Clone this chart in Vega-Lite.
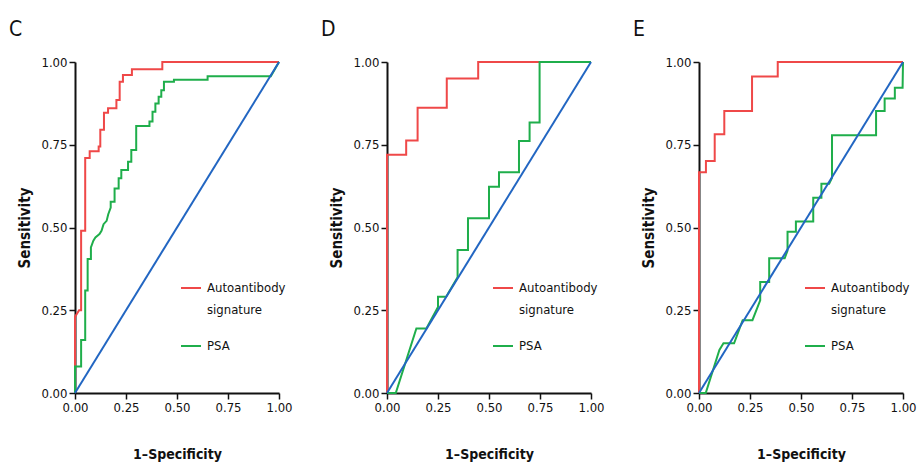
{
  "$schema": "https://vega.github.io/schema/vega-lite/v6.json",
  "padding": {"left": 9, "top": 19, "right": 2, "bottom": 5},
  "background": "white",
  "bounds": "flush",
  "spacing": 108,
  "config": {
    "view": {"stroke": null},
    "font": "DejaVu Sans Condensed, Liberation Sans, sans-serif",
    "axis": {
      "grid": false,
      "labelFlush": false,
      "domainColor": "#111",
      "domainWidth": 2,
      "tickColor": "#111",
      "tickWidth": 1.5,
      "tickSize": 6,
      "labelFont": "DejaVu Sans Condensed, Liberation Sans, sans-serif",
      "labelFontSize": 13,
      "labelColor": "#111",
      "labelPadding": 2,
      "titleFont": "DejaVu Sans Condensed, Liberation Sans, sans-serif",
      "titleFontWeight": "bold",
      "titleColor": "#111"
    },
    "axisX": {"titlePadding": 33, "titleFontSize": 14},
    "axisY": {"titlePadding": 8, "titleFontSize": 15},
    "title": {
      "font": "DejaVu Sans Condensed, Liberation Sans, sans-serif",
      "fontSize": 21,
      "fontWeight": "normal",
      "color": "#111",
      "anchor": "start",
      "frame": "group",
      "dx": -66,
      "offset": 16
    },
    "legend": {
      "orient": "none",
      "legendX": 105,
      "legendY": 215,
      "title": null,
      "symbolType": "stroke",
      "symbolSize": 400,
      "symbolStrokeWidth": 2,
      "labelFont": "DejaVu Sans Condensed, Liberation Sans, sans-serif",
      "labelFontSize": 13,
      "labelColor": "#111",
      "rowPadding": 18,
      "labelOffset": 5
    }
  },
  "resolve": {"scale": {"color": "independent"}, "legend": {"color": "independent"}},
  "datasets": {
    "roc": [
      {"p": "C", "s": "Diagonal", "o": 0, "x": 0, "y": 0},
      {"p": "C", "s": "Diagonal", "o": 1, "x": 1, "y": 1},
      {"p": "D", "s": "Diagonal", "o": 0, "x": 0, "y": 0},
      {"p": "D", "s": "Diagonal", "o": 1, "x": 1, "y": 1},
      {"p": "E", "s": "Diagonal", "o": 0, "x": 0, "y": 0},
      {"p": "E", "s": "Diagonal", "o": 1, "x": 1, "y": 1},

      {"p": "C", "s": "Autoantibody signature", "o": 0, "x": 0, "y": 0},
      {"p": "C", "s": "Autoantibody signature", "o": 1, "x": 0, "y": 0.23},
      {"p": "C", "s": "Autoantibody signature", "o": 2, "x": 0.02, "y": 0.25},
      {"p": "C", "s": "Autoantibody signature", "o": 3, "x": 0.03, "y": 0.25},
      {"p": "C", "s": "Autoantibody signature", "o": 4, "x": 0.03, "y": 0.49},
      {"p": "C", "s": "Autoantibody signature", "o": 5, "x": 0.05, "y": 0.49},
      {"p": "C", "s": "Autoantibody signature", "o": 6, "x": 0.05, "y": 0.71},
      {"p": "C", "s": "Autoantibody signature", "o": 7, "x": 0.072, "y": 0.71},
      {"p": "C", "s": "Autoantibody signature", "o": 8, "x": 0.072, "y": 0.73},
      {"p": "C", "s": "Autoantibody signature", "o": 9, "x": 0.116, "y": 0.73},
      {"p": "C", "s": "Autoantibody signature", "o": 10, "x": 0.116, "y": 0.745},
      {"p": "C", "s": "Autoantibody signature", "o": 11, "x": 0.124, "y": 0.745},
      {"p": "C", "s": "Autoantibody signature", "o": 12, "x": 0.124, "y": 0.795},
      {"p": "C", "s": "Autoantibody signature", "o": 13, "x": 0.142, "y": 0.795},
      {"p": "C", "s": "Autoantibody signature", "o": 14, "x": 0.142, "y": 0.847},
      {"p": "C", "s": "Autoantibody signature", "o": 15, "x": 0.162, "y": 0.847},
      {"p": "C", "s": "Autoantibody signature", "o": 16, "x": 0.162, "y": 0.86},
      {"p": "C", "s": "Autoantibody signature", "o": 17, "x": 0.203, "y": 0.86},
      {"p": "C", "s": "Autoantibody signature", "o": 18, "x": 0.203, "y": 0.885},
      {"p": "C", "s": "Autoantibody signature", "o": 19, "x": 0.219, "y": 0.885},
      {"p": "C", "s": "Autoantibody signature", "o": 20, "x": 0.219, "y": 0.94},
      {"p": "C", "s": "Autoantibody signature", "o": 21, "x": 0.235, "y": 0.94},
      {"p": "C", "s": "Autoantibody signature", "o": 22, "x": 0.235, "y": 0.961},
      {"p": "C", "s": "Autoantibody signature", "o": 23, "x": 0.279, "y": 0.961},
      {"p": "C", "s": "Autoantibody signature", "o": 24, "x": 0.279, "y": 0.978},
      {"p": "C", "s": "Autoantibody signature", "o": 25, "x": 0.428, "y": 0.978},
      {"p": "C", "s": "Autoantibody signature", "o": 26, "x": 0.428, "y": 1},
      {"p": "C", "s": "Autoantibody signature", "o": 27, "x": 1, "y": 1},

      {"p": "C", "s": "PSA", "o": 0, "x": 0, "y": 0},
      {"p": "C", "s": "PSA", "o": 1, "x": 0, "y": 0.08},
      {"p": "C", "s": "PSA", "o": 2, "x": 0.03, "y": 0.08},
      {"p": "C", "s": "PSA", "o": 3, "x": 0.03, "y": 0.16},
      {"p": "C", "s": "PSA", "o": 4, "x": 0.05, "y": 0.16},
      {"p": "C", "s": "PSA", "o": 5, "x": 0.05, "y": 0.31},
      {"p": "C", "s": "PSA", "o": 6, "x": 0.062, "y": 0.31},
      {"p": "C", "s": "PSA", "o": 7, "x": 0.062, "y": 0.405},
      {"p": "C", "s": "PSA", "o": 8, "x": 0.078, "y": 0.405},
      {"p": "C", "s": "PSA", "o": 9, "x": 0.078, "y": 0.44},
      {"p": "C", "s": "PSA", "o": 10, "x": 0.09, "y": 0.46},
      {"p": "C", "s": "PSA", "o": 11, "x": 0.1, "y": 0.47},
      {"p": "C", "s": "PSA", "o": 12, "x": 0.12, "y": 0.48},
      {"p": "C", "s": "PSA", "o": 13, "x": 0.13, "y": 0.49},
      {"p": "C", "s": "PSA", "o": 14, "x": 0.14, "y": 0.51},
      {"p": "C", "s": "PSA", "o": 15, "x": 0.155, "y": 0.52},
      {"p": "C", "s": "PSA", "o": 16, "x": 0.163, "y": 0.54},
      {"p": "C", "s": "PSA", "o": 17, "x": 0.175, "y": 0.56},
      {"p": "C", "s": "PSA", "o": 18, "x": 0.175, "y": 0.578},
      {"p": "C", "s": "PSA", "o": 19, "x": 0.194, "y": 0.578},
      {"p": "C", "s": "PSA", "o": 20, "x": 0.194, "y": 0.618},
      {"p": "C", "s": "PSA", "o": 21, "x": 0.214, "y": 0.618},
      {"p": "C", "s": "PSA", "o": 22, "x": 0.214, "y": 0.649},
      {"p": "C", "s": "PSA", "o": 23, "x": 0.227, "y": 0.649},
      {"p": "C", "s": "PSA", "o": 24, "x": 0.227, "y": 0.674},
      {"p": "C", "s": "PSA", "o": 25, "x": 0.26, "y": 0.674},
      {"p": "C", "s": "PSA", "o": 26, "x": 0.26, "y": 0.699},
      {"p": "C", "s": "PSA", "o": 27, "x": 0.276, "y": 0.699},
      {"p": "C", "s": "PSA", "o": 28, "x": 0.276, "y": 0.734},
      {"p": "C", "s": "PSA", "o": 29, "x": 0.3, "y": 0.734},
      {"p": "C", "s": "PSA", "o": 30, "x": 0.3, "y": 0.807},
      {"p": "C", "s": "PSA", "o": 31, "x": 0.365, "y": 0.807},
      {"p": "C", "s": "PSA", "o": 32, "x": 0.365, "y": 0.82},
      {"p": "C", "s": "PSA", "o": 33, "x": 0.38, "y": 0.82},
      {"p": "C", "s": "PSA", "o": 34, "x": 0.38, "y": 0.85},
      {"p": "C", "s": "PSA", "o": 35, "x": 0.394, "y": 0.85},
      {"p": "C", "s": "PSA", "o": 36, "x": 0.394, "y": 0.875},
      {"p": "C", "s": "PSA", "o": 37, "x": 0.41, "y": 0.875},
      {"p": "C", "s": "PSA", "o": 38, "x": 0.41, "y": 0.895},
      {"p": "C", "s": "PSA", "o": 39, "x": 0.423, "y": 0.895},
      {"p": "C", "s": "PSA", "o": 40, "x": 0.423, "y": 0.915},
      {"p": "C", "s": "PSA", "o": 41, "x": 0.436, "y": 0.915},
      {"p": "C", "s": "PSA", "o": 42, "x": 0.436, "y": 0.94},
      {"p": "C", "s": "PSA", "o": 43, "x": 0.485, "y": 0.94},
      {"p": "C", "s": "PSA", "o": 44, "x": 0.485, "y": 0.946},
      {"p": "C", "s": "PSA", "o": 45, "x": 0.65, "y": 0.946},
      {"p": "C", "s": "PSA", "o": 46, "x": 0.65, "y": 0.957},
      {"p": "C", "s": "PSA", "o": 47, "x": 0.96, "y": 0.957},
      {"p": "C", "s": "PSA", "o": 48, "x": 1, "y": 1},

      {"p": "D", "s": "Autoantibody signature", "o": 0, "x": 0, "y": 0},
      {"p": "D", "s": "Autoantibody signature", "o": 1, "x": 0, "y": 0.72},
      {"p": "D", "s": "Autoantibody signature", "o": 2, "x": 0.094, "y": 0.72},
      {"p": "D", "s": "Autoantibody signature", "o": 3, "x": 0.094, "y": 0.763},
      {"p": "D", "s": "Autoantibody signature", "o": 4, "x": 0.15, "y": 0.763},
      {"p": "D", "s": "Autoantibody signature", "o": 5, "x": 0.15, "y": 0.862},
      {"p": "D", "s": "Autoantibody signature", "o": 6, "x": 0.293, "y": 0.862},
      {"p": "D", "s": "Autoantibody signature", "o": 7, "x": 0.293, "y": 0.95},
      {"p": "D", "s": "Autoantibody signature", "o": 8, "x": 0.447, "y": 0.95},
      {"p": "D", "s": "Autoantibody signature", "o": 9, "x": 0.447, "y": 1},
      {"p": "D", "s": "Autoantibody signature", "o": 10, "x": 1, "y": 1},

      {"p": "D", "s": "PSA", "o": 0, "x": 0, "y": 0},
      {"p": "D", "s": "PSA", "o": 1, "x": 0.043, "y": 0},
      {"p": "D", "s": "PSA", "o": 2, "x": 0.144, "y": 0.195},
      {"p": "D", "s": "PSA", "o": 3, "x": 0.193, "y": 0.195},
      {"p": "D", "s": "PSA", "o": 4, "x": 0.25, "y": 0.26},
      {"p": "D", "s": "PSA", "o": 5, "x": 0.25, "y": 0.291},
      {"p": "D", "s": "PSA", "o": 6, "x": 0.29, "y": 0.291},
      {"p": "D", "s": "PSA", "o": 7, "x": 0.346, "y": 0.35},
      {"p": "D", "s": "PSA", "o": 8, "x": 0.346, "y": 0.432},
      {"p": "D", "s": "PSA", "o": 9, "x": 0.397, "y": 0.432},
      {"p": "D", "s": "PSA", "o": 10, "x": 0.397, "y": 0.528},
      {"p": "D", "s": "PSA", "o": 11, "x": 0.5, "y": 0.528},
      {"p": "D", "s": "PSA", "o": 12, "x": 0.5, "y": 0.623},
      {"p": "D", "s": "PSA", "o": 13, "x": 0.549, "y": 0.623},
      {"p": "D", "s": "PSA", "o": 14, "x": 0.549, "y": 0.667},
      {"p": "D", "s": "PSA", "o": 15, "x": 0.647, "y": 0.667},
      {"p": "D", "s": "PSA", "o": 16, "x": 0.647, "y": 0.761},
      {"p": "D", "s": "PSA", "o": 17, "x": 0.699, "y": 0.761},
      {"p": "D", "s": "PSA", "o": 18, "x": 0.699, "y": 0.817},
      {"p": "D", "s": "PSA", "o": 19, "x": 0.748, "y": 0.817},
      {"p": "D", "s": "PSA", "o": 20, "x": 0.748, "y": 1},
      {"p": "D", "s": "PSA", "o": 21, "x": 1, "y": 1},

      {"p": "E", "s": "Autoantibody signature", "o": 0, "x": 0, "y": 0},
      {"p": "E", "s": "Autoantibody signature", "o": 1, "x": 0, "y": 0.667},
      {"p": "E", "s": "Autoantibody signature", "o": 2, "x": 0.034, "y": 0.667},
      {"p": "E", "s": "Autoantibody signature", "o": 3, "x": 0.034, "y": 0.701},
      {"p": "E", "s": "Autoantibody signature", "o": 4, "x": 0.077, "y": 0.701},
      {"p": "E", "s": "Autoantibody signature", "o": 5, "x": 0.077, "y": 0.782},
      {"p": "E", "s": "Autoantibody signature", "o": 6, "x": 0.124, "y": 0.782},
      {"p": "E", "s": "Autoantibody signature", "o": 7, "x": 0.124, "y": 0.852},
      {"p": "E", "s": "Autoantibody signature", "o": 8, "x": 0.26, "y": 0.852},
      {"p": "E", "s": "Autoantibody signature", "o": 9, "x": 0.26, "y": 0.956},
      {"p": "E", "s": "Autoantibody signature", "o": 10, "x": 0.386, "y": 0.956},
      {"p": "E", "s": "Autoantibody signature", "o": 11, "x": 0.386, "y": 1},
      {"p": "E", "s": "Autoantibody signature", "o": 12, "x": 1, "y": 1},

      {"p": "E", "s": "PSA", "o": 0, "x": 0, "y": 0},
      {"p": "E", "s": "PSA", "o": 1, "x": 0.033, "y": 0},
      {"p": "E", "s": "PSA", "o": 2, "x": 0.1, "y": 0.13},
      {"p": "E", "s": "PSA", "o": 3, "x": 0.12, "y": 0.15},
      {"p": "E", "s": "PSA", "o": 4, "x": 0.172, "y": 0.15},
      {"p": "E", "s": "PSA", "o": 5, "x": 0.214, "y": 0.22},
      {"p": "E", "s": "PSA", "o": 6, "x": 0.262, "y": 0.22},
      {"p": "E", "s": "PSA", "o": 7, "x": 0.3, "y": 0.28},
      {"p": "E", "s": "PSA", "o": 8, "x": 0.3, "y": 0.335},
      {"p": "E", "s": "PSA", "o": 9, "x": 0.344, "y": 0.335},
      {"p": "E", "s": "PSA", "o": 10, "x": 0.344, "y": 0.407},
      {"p": "E", "s": "PSA", "o": 11, "x": 0.42, "y": 0.407},
      {"p": "E", "s": "PSA", "o": 12, "x": 0.434, "y": 0.43},
      {"p": "E", "s": "PSA", "o": 13, "x": 0.434, "y": 0.487},
      {"p": "E", "s": "PSA", "o": 14, "x": 0.475, "y": 0.487},
      {"p": "E", "s": "PSA", "o": 15, "x": 0.475, "y": 0.518},
      {"p": "E", "s": "PSA", "o": 16, "x": 0.56, "y": 0.518},
      {"p": "E", "s": "PSA", "o": 17, "x": 0.56, "y": 0.59},
      {"p": "E", "s": "PSA", "o": 18, "x": 0.6, "y": 0.59},
      {"p": "E", "s": "PSA", "o": 19, "x": 0.6, "y": 0.632},
      {"p": "E", "s": "PSA", "o": 20, "x": 0.638, "y": 0.632},
      {"p": "E", "s": "PSA", "o": 21, "x": 0.652, "y": 0.65},
      {"p": "E", "s": "PSA", "o": 22, "x": 0.652, "y": 0.779},
      {"p": "E", "s": "PSA", "o": 23, "x": 0.868, "y": 0.779},
      {"p": "E", "s": "PSA", "o": 24, "x": 0.868, "y": 0.852},
      {"p": "E", "s": "PSA", "o": 25, "x": 0.91, "y": 0.852},
      {"p": "E", "s": "PSA", "o": 26, "x": 0.91, "y": 0.89},
      {"p": "E", "s": "PSA", "o": 27, "x": 0.96, "y": 0.89},
      {"p": "E", "s": "PSA", "o": 28, "x": 0.96, "y": 0.922},
      {"p": "E", "s": "PSA", "o": 29, "x": 0.998, "y": 0.922},
      {"p": "E", "s": "PSA", "o": 30, "x": 1, "y": 1}
    ]
  },
  "hconcat": [
    {
      "width": 204, "height": 331,
      "title": {"text": "C"},
      "data": {"name": "roc"},
      "transform": [{"filter": "datum.p == 'C'"}],
      "layer": [
        {
          "transform": [{"filter": "datum.s != 'Diagonal'"}],
          "mark": {"type": "line", "strokeWidth": 2},
          "encoding": {
            "x": {"field": "x", "type": "quantitative", "scale": {"domain": [0, 1], "nice": false}, "axis": {"values": [0, 0.25, 0.5, 0.75, 1], "format": ".2f", "title": "1–Specificity"}},
            "y": {"field": "y", "type": "quantitative", "scale": {"domain": [0, 1], "nice": false}, "axis": {"values": [0, 0.25, 0.5, 0.75, 1], "format": ".2f", "title": "Sensitivity"}},
            "order": {"field": "o", "type": "quantitative"},
            "color": {"field": "s", "type": "nominal", "scale": {"domain": ["Autoantibody signature", "PSA"], "range": ["#ef4848", "#1fae4b"]}, "legend": {"labelExpr": "datum.label == 'PSA' ? 'PSA' : ['Autoantibody', '\u2002\u2002\u2002signature']", "encode": {"labels": {"update": {"lineHeight": {"value": 22}}}}}}
          }
        },
        {
          "transform": [{"filter": "datum.s == 'Diagonal'"}],
          "mark": {"type": "line", "strokeWidth": 2, "color": "#2266c2"},
          "encoding": {
            "x": {"field": "x", "type": "quantitative"},
            "y": {"field": "y", "type": "quantitative"},
            "order": {"field": "o", "type": "quantitative"}
          }
        }
      ]
    },
    {
      "width": 204, "height": 331,
      "title": {"text": "D"},
      "data": {"name": "roc"},
      "transform": [{"filter": "datum.p == 'D'"}],
      "layer": [
        {
          "transform": [{"filter": "datum.s != 'Diagonal'"}],
          "mark": {"type": "line", "strokeWidth": 2},
          "encoding": {
            "x": {"field": "x", "type": "quantitative", "scale": {"domain": [0, 1], "nice": false}, "axis": {"values": [0, 0.25, 0.5, 0.75, 1], "format": ".2f", "title": "1–Specificity"}},
            "y": {"field": "y", "type": "quantitative", "scale": {"domain": [0, 1], "nice": false}, "axis": {"values": [0, 0.25, 0.5, 0.75, 1], "format": ".2f", "title": "Sensitivity"}},
            "order": {"field": "o", "type": "quantitative"},
            "color": {"field": "s", "type": "nominal", "scale": {"domain": ["Autoantibody signature", "PSA"], "range": ["#ef4848", "#1fae4b"]}, "legend": {"labelExpr": "datum.label == 'PSA' ? 'PSA' : ['Autoantibody', '\u2002\u2002\u2002signature']", "encode": {"labels": {"update": {"lineHeight": {"value": 22}}}}}}
          }
        },
        {
          "transform": [{"filter": "datum.s == 'Diagonal'"}],
          "mark": {"type": "line", "strokeWidth": 2, "color": "#2266c2"},
          "encoding": {
            "x": {"field": "x", "type": "quantitative"},
            "y": {"field": "y", "type": "quantitative"},
            "order": {"field": "o", "type": "quantitative"}
          }
        }
      ]
    },
    {
      "width": 204, "height": 331,
      "title": {"text": "E"},
      "data": {"name": "roc"},
      "transform": [{"filter": "datum.p == 'E'"}],
      "layer": [
        {
          "transform": [{"filter": "datum.s != 'Diagonal'"}],
          "mark": {"type": "line", "strokeWidth": 2},
          "encoding": {
            "x": {"field": "x", "type": "quantitative", "scale": {"domain": [0, 1], "nice": false}, "axis": {"values": [0, 0.25, 0.5, 0.75, 1], "format": ".2f", "title": "1–Specificity"}},
            "y": {"field": "y", "type": "quantitative", "scale": {"domain": [0, 1], "nice": false}, "axis": {"values": [0, 0.25, 0.5, 0.75, 1], "format": ".2f", "title": "Sensitivity"}},
            "order": {"field": "o", "type": "quantitative"},
            "color": {"field": "s", "type": "nominal", "scale": {"domain": ["Autoantibody signature", "PSA"], "range": ["#ef4848", "#1fae4b"]}, "legend": {"labelExpr": "datum.label == 'PSA' ? 'PSA' : ['Autoantibody', '\u2002\u2002\u2002signature']", "encode": {"labels": {"update": {"lineHeight": {"value": 22}}}}}}
          }
        },
        {
          "transform": [{"filter": "datum.s == 'Diagonal'"}],
          "mark": {"type": "line", "strokeWidth": 2, "color": "#2266c2"},
          "encoding": {
            "x": {"field": "x", "type": "quantitative"},
            "y": {"field": "y", "type": "quantitative"},
            "order": {"field": "o", "type": "quantitative"}
          }
        }
      ]
    }
  ]
}
